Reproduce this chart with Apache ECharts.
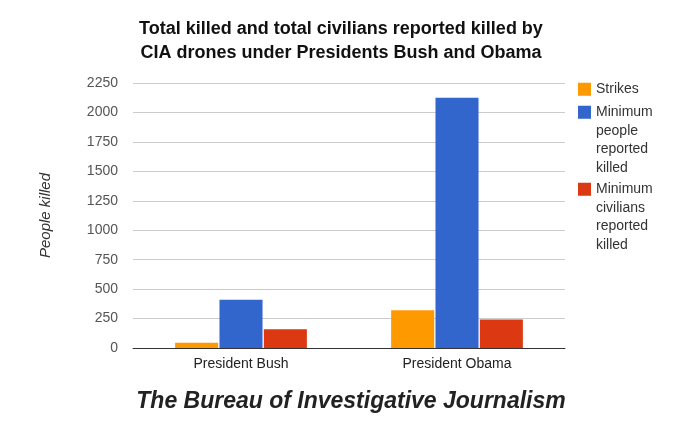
<!DOCTYPE html>
<html lang="en">
    <head>
        <title>CIA drone strikes</title>
        <meta charset="utf-8">
        <script src='https://cdn.jsdelivr.net/npm/echarts@6/dist/echarts.min.js'></script>
    </head>

    <style>
        html, body, #main {
            width: 100%;
            height: 100%;
            margin: 0;
            background: #fff;
        }
    </style>

    <body>
        <div id='main'></div>

        <script>
            // values
            const presidents = ['President Bush', 'President Obama'];
            const strikes = [45, 320];
            const peopleKilled = [410, 2125];
            const civiliansKilled = [160, 243];

            const seriesNames = ['Strikes', 'Minimum people reported killed', 'Minimum civilians reported killed'];
            const legendLines = [
                ['Strikes'],
                ['Minimum', 'people', 'reported', 'killed'],
                ['Minimum', 'civilians', 'reported', 'killed']
            ];
            const legendTops = [80, 103, 180];
            const colors = ['#ff9900', '#3366cc', '#dc3912'];

            const lineH = 18.5;
            const box = 13;
            const font = 'Liberation Sans, Arial, sans-serif';

            const chart = echarts.init(document.getElementById('main'));

            const bar = (i, values) => ({
                name: seriesNames[i],
                type: 'bar',
                data: values,
                barGap: '3%',
                barCategoryGap: '39%',
                itemStyle: { color: colors[i] }
            });

            // one legend per series so the square can sit next to the first line of wrapped text
            const legend = i => {
                const n = legendLines[i].length;
                const h = n === 1 ? box : n * lineH;
                const y0 = (lineH - box) / 2;
                const icon = n === 1 ? 'rect'
                    : 'path://M0,0L0.01,0M0,' + y0 + 'H' + box + 'V' + (y0 + box) + 'H0Z' + 'M0,' + h + 'L0.01,' + h;
                return {
                    orient: 'vertical',
                    left: 578,
                    top: legendTops[i],
                    padding: 0,
                    itemWidth: box,
                    itemHeight: h,
                    icon: icon,
                    selectedMode: false,
                    data: [seriesNames[i]],
                    formatter: name => legendLines[seriesNames.indexOf(name)].join('\n'),
                    textStyle: { fontSize: 14, color: '#333', lineHeight: lineH }
                };
            };

            const option = {
                textStyle: { fontFamily: font },
                color: colors,
                title: [
                    {
                        text: 'Total killed and total civilians reported killed by\nCIA drones under Presidents Bush and Obama',
                        left: 341,
                        textAlign: 'center',
                        top: 17,
                        padding: 0,
                        textStyle: { fontSize: 18, fontWeight: 'bold', color: '#111', lineHeight: 24 }
                    },
                    {
                        text: 'The Bureau of Investigative Journalism',
                        left: 351,
                        textAlign: 'center',
                        top: 390,
                        padding: 0,
                        textStyle: { fontSize: 23, fontWeight: 'bold', fontStyle: 'italic', color: '#222' }
                    }
                ],
                legend: [legend(0), legend(1), legend(2)],
                grid: { left: 133, right: 131, top: 83, bottom: 83 },
                xAxis: {
                    type: 'category',
                    data: presidents,
                    axisTick: { show: false },
                    axisLine: { lineStyle: { color: '#333', width: 1 } },
                    axisLabel: { fontSize: 14, color: '#222', margin: 9 }
                },
                yAxis: {
                    type: 'value',
                    min: 0,
                    max: 2250,
                    interval: 250,
                    name: 'People killed',
                    nameLocation: 'middle',
                    nameRotate: 90,
                    nameGap: 80,
                    nameTextStyle: { fontSize: 15, fontStyle: 'italic', color: '#333' },
                    axisLine: { show: false },
                    axisTick: { show: false },
                    axisLabel: { fontSize: 14, color: '#555', margin: 15, formatter: v => String(v) },
                    splitLine: { lineStyle: { color: '#ccc' } }
                },
                series: [
                    bar(0, strikes),
                    bar(1, peopleKilled),
                    bar(2, civiliansKilled)
                ]
            };

            chart.setOption(option);

            window.onresize = function () {
                chart.resize();
            }
        </script>
    </body>
</html>
